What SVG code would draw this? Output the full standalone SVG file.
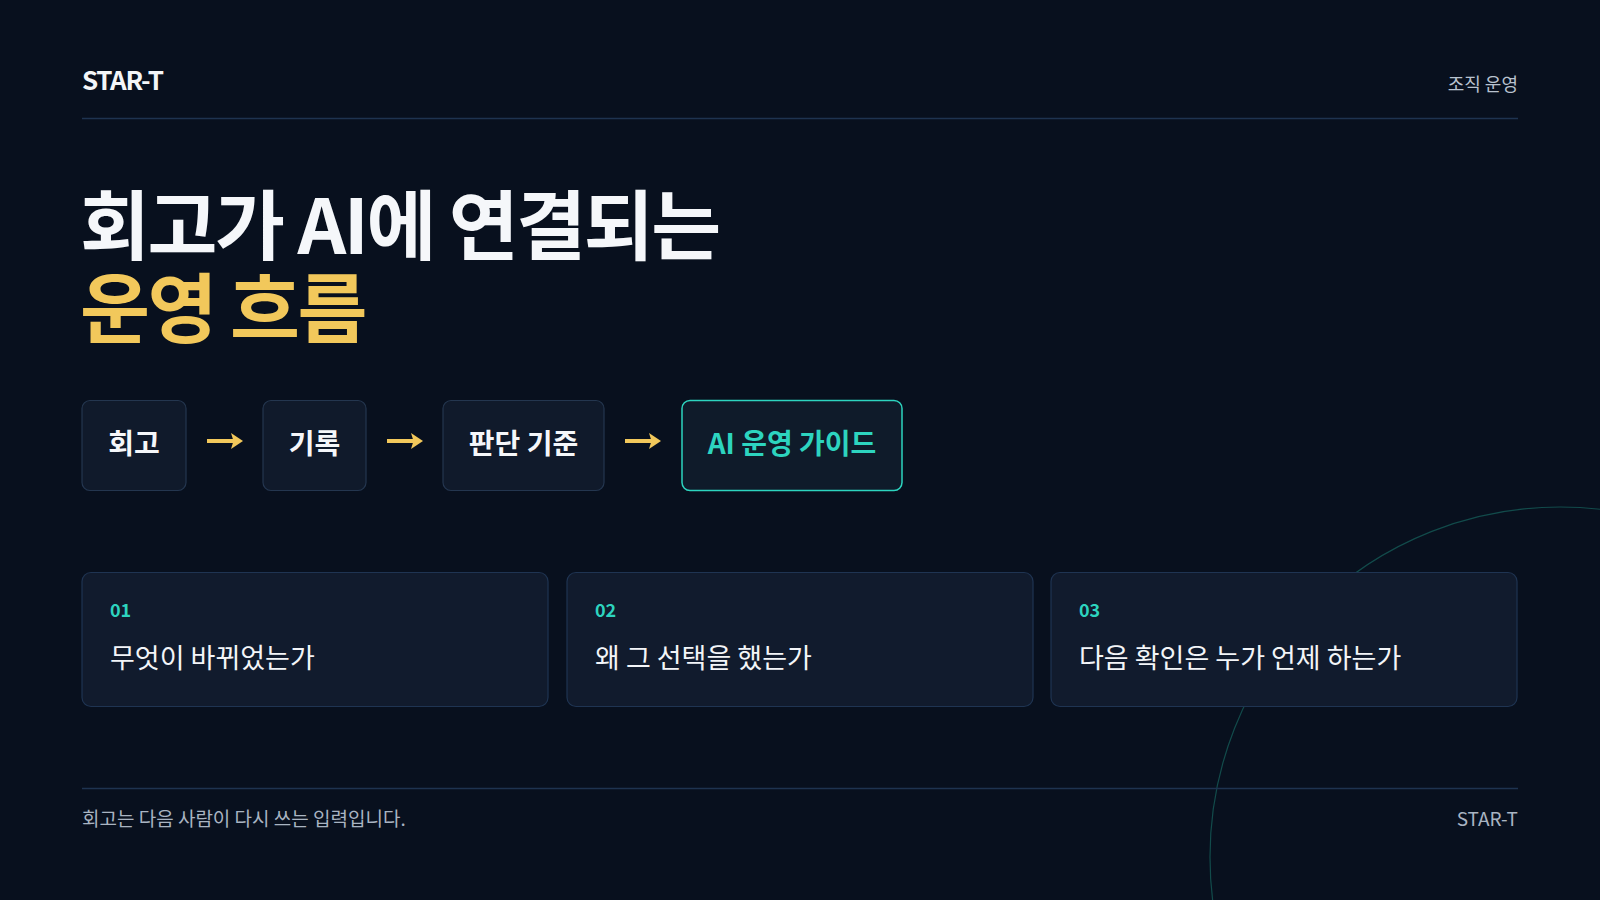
<svg xmlns="http://www.w3.org/2000/svg" width="1600" height="900" viewBox="0 0 1600 900">
<style>
text{font-family:"Noto Sans CJK KR","Noto Sans",sans-serif;}
.brand{font-size:26px;font-weight:700;fill:#f3f5f8;letter-spacing:-1.3px;}
.meta{font-size:18px;fill:#b8c2cf;}
.h1{font-size:76px;font-weight:700;fill:#f5f7fa;letter-spacing:-2.4px;}
.h2{font-size:76px;font-weight:700;fill:#f2c85b;letter-spacing:-2.4px;}
.step{fill:#101a2b;stroke:#24364f;stroke-width:1.2;}
.stepA{fill:#0f1b2a;stroke:#2dd4bf;stroke-width:1.5;}
.stxt{font-size:28px;font-weight:700;fill:#f5f7fa;text-anchor:middle;}
.stxtA{font-size:28px;font-weight:700;fill:#2dd4bf;text-anchor:middle;}
.card{fill:#111b2d;stroke:#1f3452;stroke-width:1.2;}
.num{font-size:18px;font-weight:700;fill:#2dd4bf;}
.ctxt{font-size:27px;fill:#f3f5f8;}
.foot{font-size:19px;fill:#a9b4c2;}
.rule{stroke:#1e3350;stroke-width:1.3;}
.shaft{stroke:#f2c85b;stroke-width:4;fill:none;}
.head{fill:#f2c85b;}
</style>
<rect width="1600" height="900" fill="#08101e"/>
<circle cx="1560" cy="857" r="350" fill="none" stroke="#124b4b" stroke-width="1.2"/>
<g id="header">
<text class="brand" x="82" y="90">STAR-T</text>
<text class="meta" x="1518" y="91" text-anchor="end">조직 운영</text>
<line class="rule" x1="82" y1="118.5" x2="1518" y2="118.5"/>
</g>
<g id="title">
<text class="h1" x="80" y="254">회고가 AI에 연결되는</text>
<text class="h2" x="80" y="337">운영 흐름</text>
</g>
<g id="node-retro">
<rect class="step" x="82" y="400.5" width="104" height="90" rx="8"/>
<text class="stxt" x="134" y="454">회고</text>
</g>
<g id="node-record">
<rect class="step" x="263" y="400.5" width="103" height="90" rx="8"/>
<text class="stxt" x="314.5" y="454">기록</text>
</g>
<g id="node-criteria">
<rect class="step" x="443" y="400.5" width="161" height="90" rx="8"/>
<text class="stxt" x="523.5" y="454">판단 기준</text>
</g>
<g id="node-guide">
<rect class="stepA" x="682" y="400.5" width="220" height="90" rx="8"/>
<text class="stxtA" x="792" y="454">AI 운영 가이드</text>
</g>
<g id="connectors">
<g transform="translate(207 441)">
<path class="shaft" d="M0 0H27"/>
<path class="head" d="M24 -8L36 0L24 8L26.5 0Z"/>
</g>
<g transform="translate(387 441)">
<path class="shaft" d="M0 0H27"/>
<path class="head" d="M24 -8L36 0L24 8L26.5 0Z"/>
</g>
<g transform="translate(625 441)">
<path class="shaft" d="M0 0H27"/>
<path class="head" d="M24 -8L36 0L24 8L26.5 0Z"/>
</g>
</g>
<g id="card-01">
<rect class="card" x="82" y="572.5" width="466" height="134" rx="9"/>
<text class="num" x="110" y="617">01</text>
<text class="ctxt" x="110" y="668">무엇이 바뀌었는가</text>
</g>
<g id="card-02">
<rect class="card" x="567" y="572.5" width="466" height="134" rx="9"/>
<text class="num" x="595" y="617">02</text>
<text class="ctxt" x="595" y="668">왜 그 선택을 했는가</text>
</g>
<g id="card-03">
<rect class="card" x="1051" y="572.5" width="466" height="134" rx="9"/>
<text class="num" x="1079" y="617">03</text>
<text class="ctxt" x="1079" y="668">다음 확인은 누가 언제 하는가</text>
</g>
<g id="footer">
<line class="rule" x1="82" y1="788.5" x2="1518" y2="788.5"/>
<text class="foot" x="82" y="826">회고는 다음 사람이 다시 쓰는 입력입니다.</text>
<text class="foot" x="1518" y="826" text-anchor="end">STAR-T</text>
</g>
</svg>
